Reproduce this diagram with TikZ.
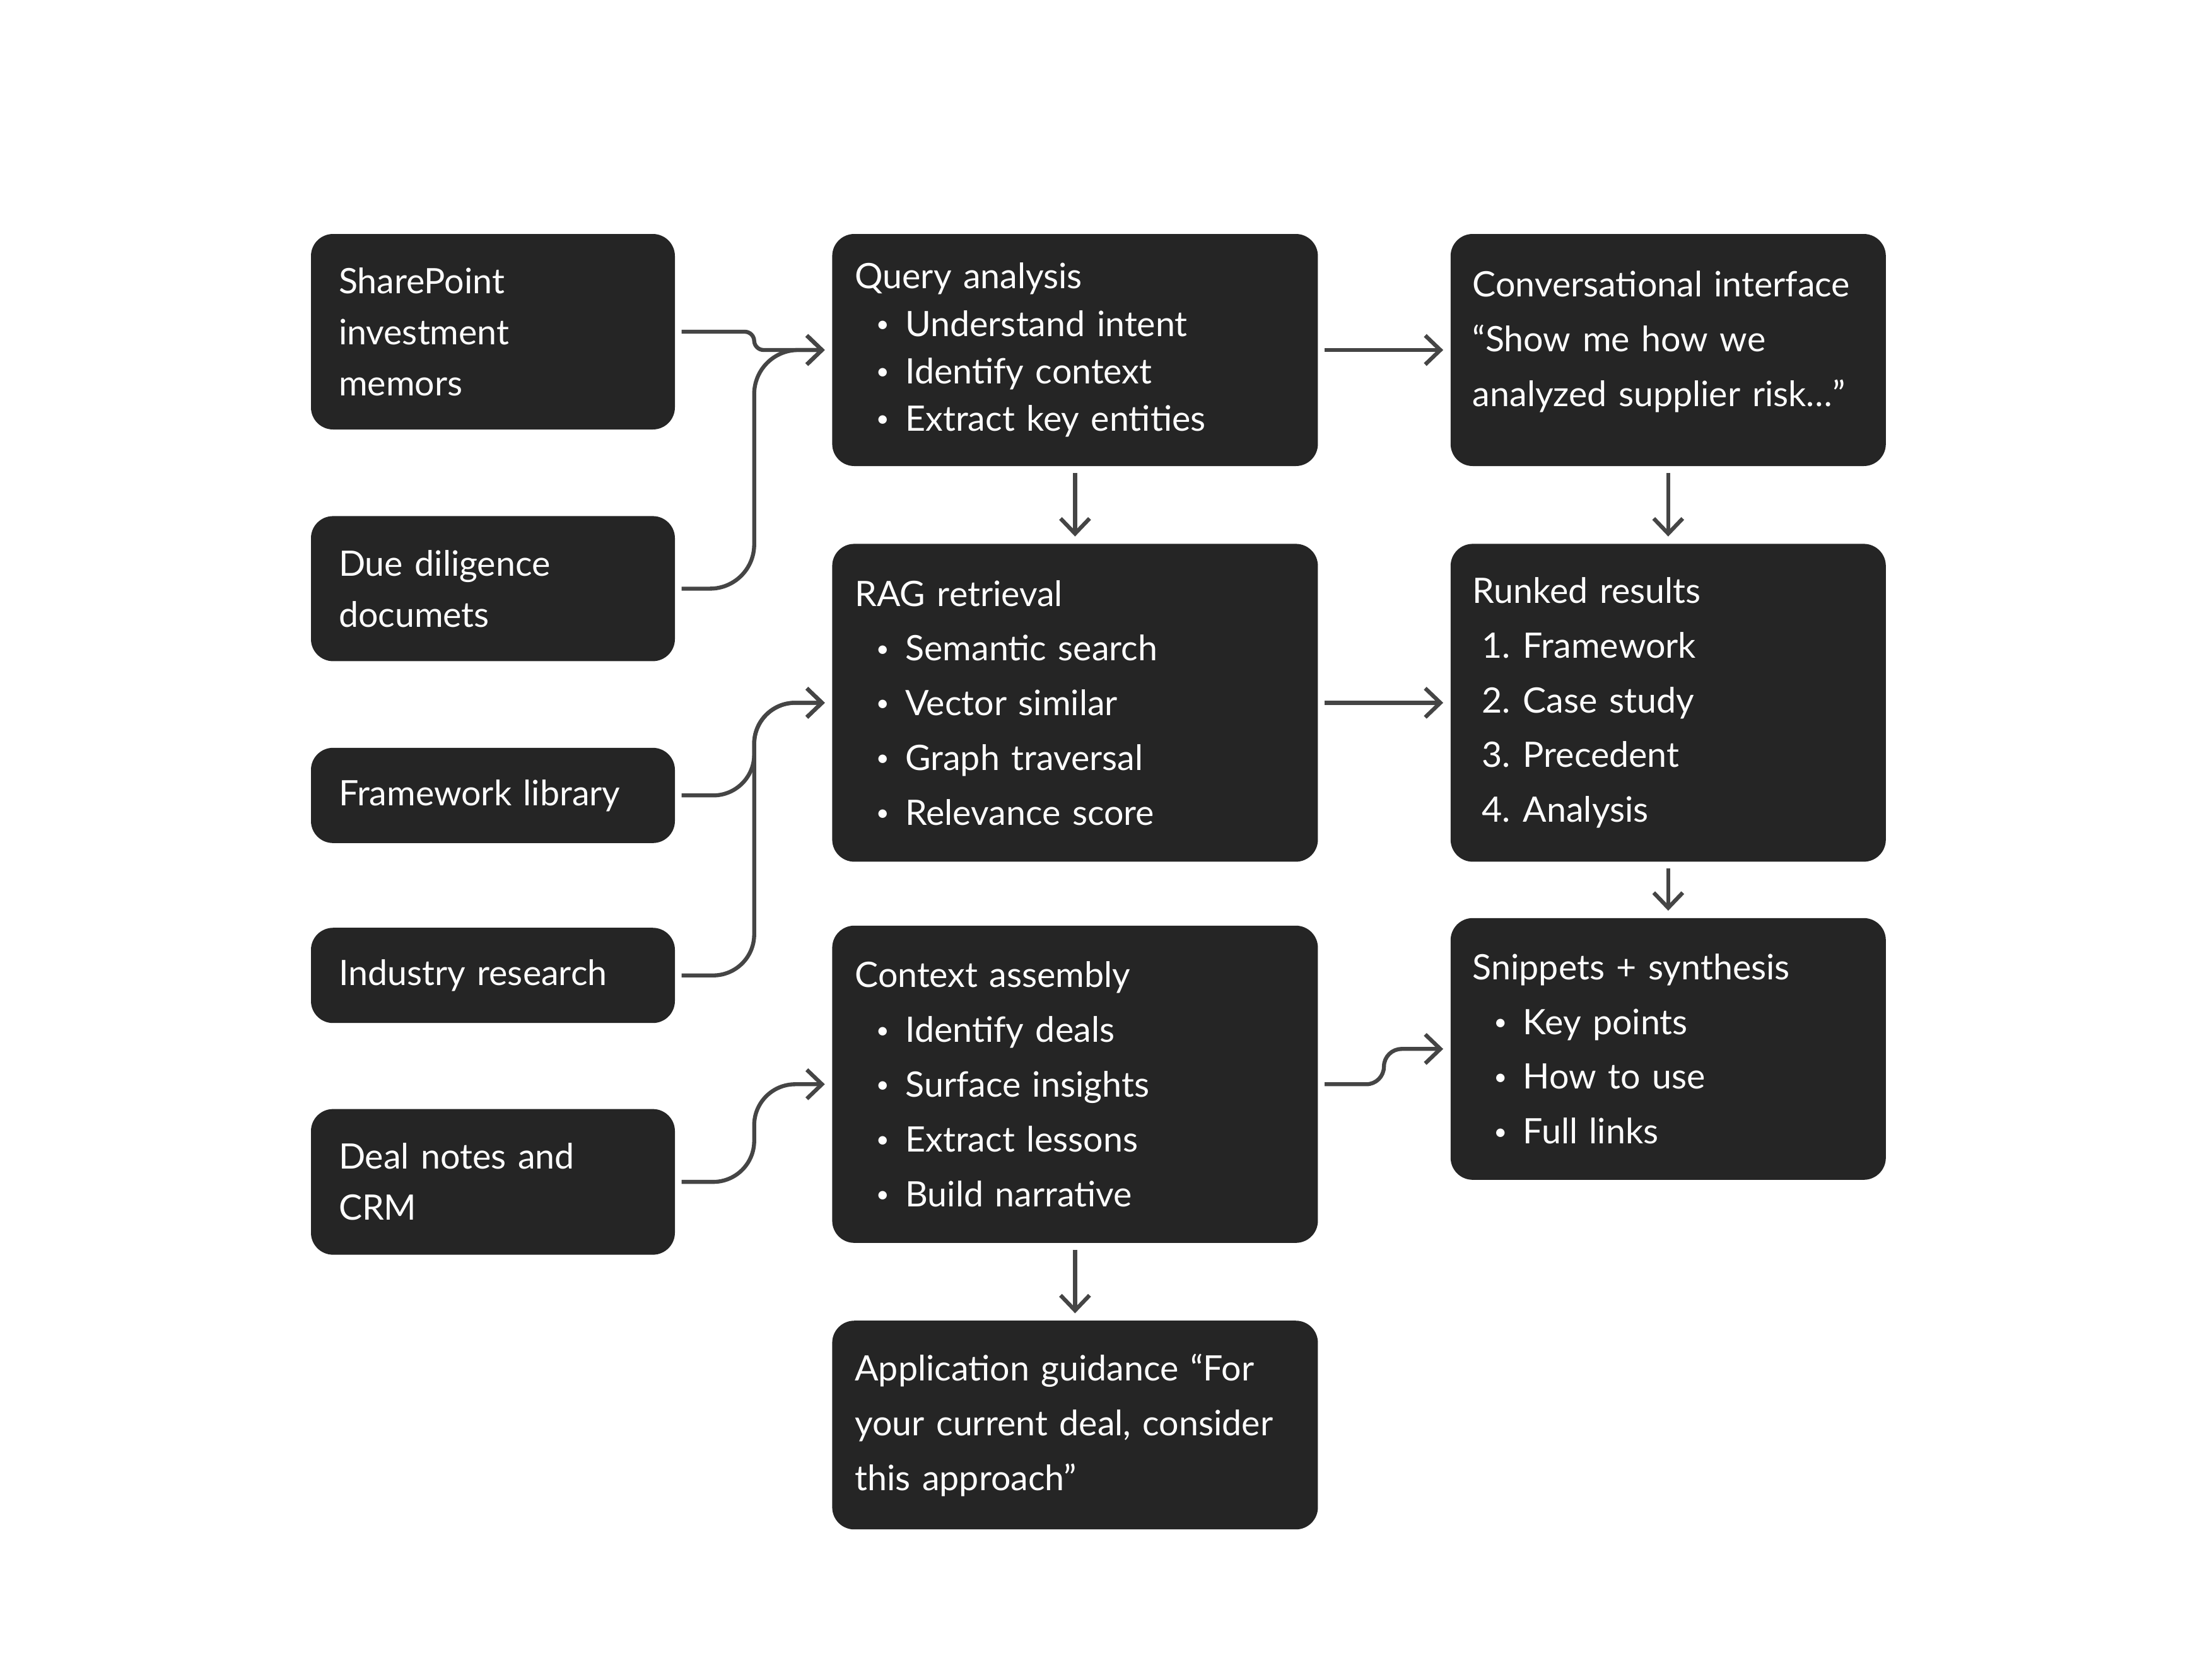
\documentclass[tikz,border=0pt]{standalone}
\usepackage{fontspec}
\setmainfont{Lato}
\usetikzlibrary{positioning, arrows.meta}
\definecolor{cardfill}{HTML}{252525}
\definecolor{linegray}{HTML}{454545}
\newcommand{\itm}{\hspace*{0.335cm}\makebox[0.465cm][l]{\raisebox{0.12em}{\scalebox{0.65}{\textbullet}}}}
\newcommand{\enum}[1]{\makebox[0.60cm][r]{#1.}\hspace*{0.20cm}}

\begin{document}
\begin{tikzpicture}[
    card/.style={fill=cardfill, rounded corners=0.35cm, text=white, align=left, inner ysep=0pt, font=\fontsize{15.8}{24.7}\selectfont},
    srcbox/.style={card, text width=4.89cm, inner xsep=0.44cm, font=\fontsize{15.8}{23}\selectfont},
    midbox/.style={card, text width=6.98cm, inner xsep=0.36cm},
    outbox/.style={card, text width=6.20cm, inner xsep=0.35cm},
    conn/.style={-{Straight Barb[length=0.24cm, width=0.46cm]}, draw=linegray, line width=1.8pt, shorten <=0.1cm, shorten >=0.11cm},
]
            \useasboundingbox (0,0) rectangle (34.8,-26.64);

            \node (sp) [srcbox, minimum height=3.10cm] at (7.815,-5.26) {SharePoint\\investment\\memors};
            \node (dd) [srcbox, minimum height=2.30cm, below=1.36cm of sp] {Due diligence\\documets};
            \node (fl) [srcbox, minimum height=1.51cm, below=1.36cm of dd] {Framework library};
            \node (ir) [srcbox, minimum height=1.51cm, below=1.33cm of fl] {Industry research};
            \node (dn) [srcbox, minimum height=2.31cm, below=1.35cm of ir] {Deal notes and\\CRM};

            \node (qa) [midbox, minimum height=3.68cm, right=2.48cm of sp.north east, anchor=north west, font=\fontsize{15.8}{21.4}\selectfont]
                {Query analysis\\\itm Understand intent\\\itm Identify context\\\itm Extract key entities};
            \node (rag) [midbox, minimum height=5.04cm, below=1.22cm of qa]
                {RAG retrieval\\\itm Semantic search\\\itm Vector similar\\\itm Graph traversal\\\itm Relevance score};
            \node (ca) [midbox, minimum height=5.03cm, below=1.00cm of rag]
                {Context assembly\\\itm Identify deals\\\itm Surface insights\\\itm Extract lessons\\\itm Build narrative};
            \node (ag) [midbox, minimum height=3.31cm, below=1.22cm of ca]
                {Application guidance “For\\your current deal, consider\\this approach”};

            \node (cv) [outbox, minimum height=3.68cm, right=2.09cm of qa.north east, anchor=north west, text depth=2.10cm]
                {Conversational interface\\“Show me how we\\analyzed supplier risk…”};
            \node (rr) [outbox, minimum height=5.04cm, below=1.22cm of cv]
                {Runked results\\\enum{1}Framework\\\enum{2}Case study\\\enum{3}Precedent\\\enum{4}Analysis};
            \node (sn) [outbox, minimum height=4.15cm, below=0.88cm of rr]
                {Snippets + synthesis\\\itm Key points\\\itm How to use\\\itm Full links};

            \coordinate (jq) at ([xshift=-1.23cm]qa.west);
            \coordinate (jr) at ([xshift=-1.23cm]rag.west);
            \coordinate (jc) at ([xshift=-1.23cm]ca.west);
            \coordinate (js) at ([xshift=-1.05cm]sn.west);

            \draw[conn, rounded corners=0.15cm] (sp.east) -| (jq) -- (qa.west);
            \draw[conn, rounded corners=0.7cm] (dd.east) -| (jq) -- (qa.west);
            \draw[conn, rounded corners=0.65cm] (fl.east) -| (jr) -- (rag.west);
            \draw[conn, rounded corners=0.65cm] (ir.east) -| (jr) -- (rag.west);
            \draw[conn, rounded corners=0.65cm] (dn.east) -| (jc) -- (ca.west);

            \draw[conn] (qa.east) -- (cv.west);
            \draw[conn] (qa.south) -- (rag.north);
            \draw[conn] (cv.south) -- (rr.north);
            \draw[conn] (rag.east) -- (rr.west);
            \draw[conn] (rr.south) -- (sn.north);
            \draw[conn] (ca.south) -- (ag.north);
            \draw[conn, rounded corners=0.28cm] (ca.east) -| (js) -- (sn.west);

            \end{tikzpicture}
\end{document}
